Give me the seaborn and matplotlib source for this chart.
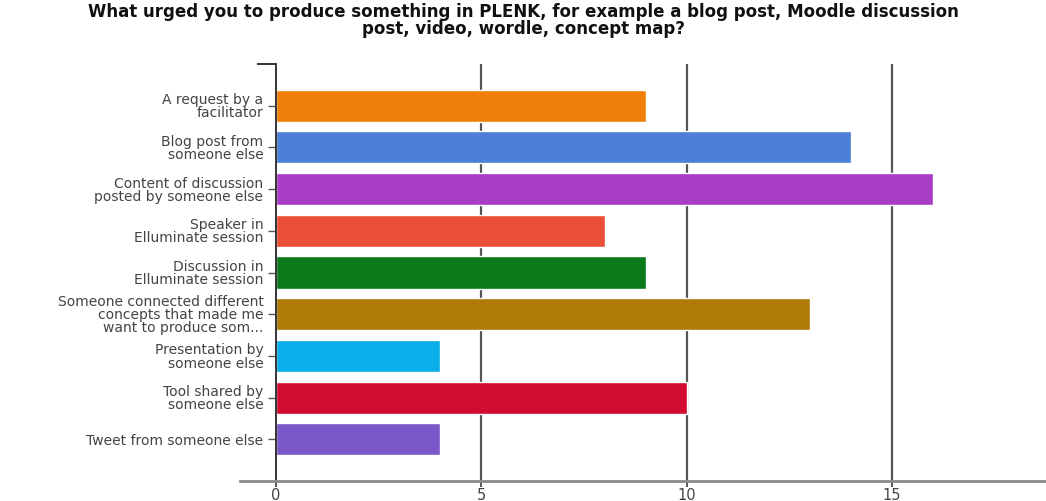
import matplotlib
matplotlib.use("Agg")
import matplotlib.pyplot as plt
import seaborn as sns
import pandas as pd

categories = [
    "A request by a\nfacilitator",
    "Blog post from\nsomeone else",
    "Content of discussion\nposted by someone else",
    "Speaker in\nElluminate session",
    "Discussion in\nElluminate session",
    "Someone connected different\nconcepts that made me\nwant to produce som...",
    "Presentation by\nsomeone else",
    "Tool shared by\nsomeone else",
    "Tweet from someone else",
]
values = [9, 14, 16, 8, 9, 13, 4, 10, 4]
bar_colors = ["#f07f0a", "#4d7fd8", "#a93cc6", "#ec4f38", "#0c7a1a",
              "#b07a06", "#0aaee8", "#d20c31", "#7a58c8"]
x_ticks = [0, 5, 10, 15]
title = ("What urged you to produce something in PLENK, for example a blog post, Moodle discussion\n"
         "post, video, wordle, concept map?")

sns.set_theme(style="white")
plt.rcParams['font.family'] = ['DejaVu Sans']

df = pd.DataFrame({"category": categories, "value": values})

fig = plt.figure(figsize=(10.46, 5.01), dpi=100)
ax = fig.add_axes([276/1046, 20/501, 1 - 276/1046, (481-64)/501])

sns.barplot(data=df, x="value", y="category", hue="category", palette=bar_colors,
            orient="h", width=0.77, legend=False, ax=ax, saturation=1)

ax.set_xlim(0, 18.75)
ax.set_ylim(9.0, -1.0)
ax.set_xlabel("")
ax.set_ylabel("")
ax.set_xticks(x_ticks)
ax.set_xticklabels([str(t) for t in x_ticks])

for t in x_ticks[1:]:
    ax.axvline(t, color="#555555", lw=1.6, zorder=0)

for s in ["top", "right"]:
    ax.spines[s].set_visible(False)
ax.spines["left"].set_color("#333333")
ax.spines["left"].set_linewidth(1.4)
ax.spines["bottom"].set_color("#8a8a8a")
ax.spines["bottom"].set_linewidth(2.0)
ax.spines["bottom"].set_bounds(-0.88, 18.75)

ax.tick_params(axis="y", left=True, length=6, width=1, color="#555555",
               labelsize=10, labelcolor="#444444", pad=3)
ax.tick_params(axis="x", bottom=True, length=4, width=1.4, color="#555555",
               labelsize=10.5, labelcolor="#444444", pad=1)
for lab in ax.get_yticklabels():
    lab.set_linespacing(0.92)
ax.set_yticks([-1.0], minor=True)
ax.tick_params(axis="y", which="minor", left=True, length=14, width=1.4, color="#333333")

fig.text(0.5, 1 - 3/501, title, ha="center", va="top", fontsize=12,
         fontweight="bold", color="#111111", linespacing=0.92)

fig.savefig("out.png", dpi=100)
